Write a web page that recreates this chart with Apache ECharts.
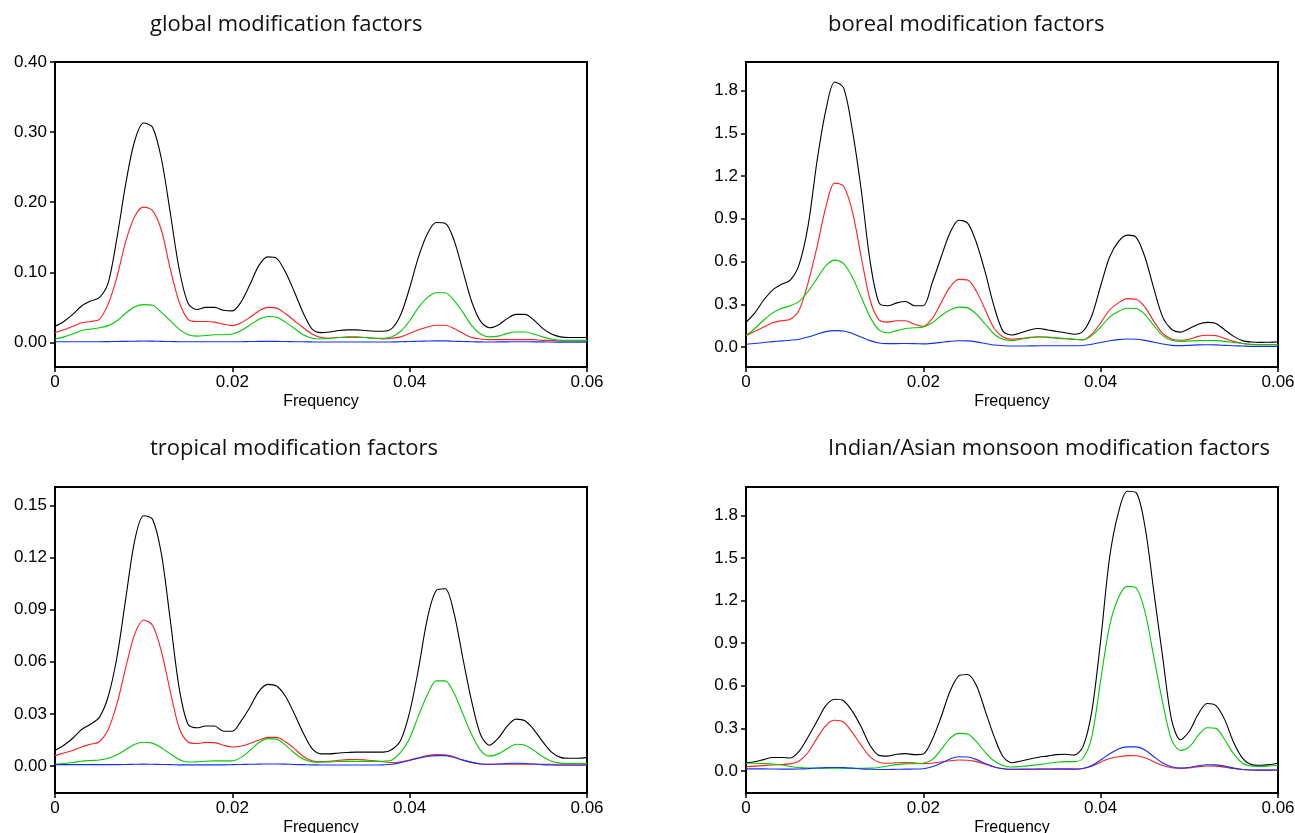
<!DOCTYPE html>
<html><head><meta charset="utf-8">
<script src="https://cdn.jsdelivr.net/npm/echarts@6/dist/echarts.min.js"></script>
<style>html,body{margin:0;padding:0;background:#fff}#c{width:1295px;height:833px}</style>
</head><body><div id="c"></div>
<script>
// Frequency grid (x values)
const freq = [0,0.001,0.002,0.003,0.004,0.005,0.006,0.007,0.008,0.009,
0.010,0.011,0.012,0.013,0.014,0.015,0.016,0.017,0.018,0.019,
0.020,0.021,0.022,0.023,0.024,0.025,0.026,0.027,0.028,0.029,
0.030,0.031,0.032,0.033,0.034,0.035,0.036,0.037,0.038,0.039,
0.040,0.041,0.042,0.043,0.044,0.045,0.046,0.047,0.048,0.049,
0.050,0.051,0.052,0.053,0.054,0.055,0.056,0.057,0.058,0.059,0.060];

// global
const gBlack = [.023,.030,.040,.052,.059,.064,.085,.150,.228,.288,
.313,.307,.262,.185,.105,.056,.047,.050,.050,.046,
.045,.058,.083,.110,.122,.120,.100,.072,.042,.019,
.014,.015,.017,.018,.018,.017,.016,.016,.020,.040,
.078,.122,.155,.171,.170,.146,.102,.058,.030,.021,
.025,.034,.040,.040,.032,.020,.012,.008,.007,.007,.007];
const gRed = [.014,.018,.023,.028,.030,.033,.055,.094,.145,.180,
.193,.188,.160,.105,.058,.033,.030,.030,.029,.026,
.024,.028,.036,.045,.050,.049,.041,.031,.021,.012,
.007,.006,.007,.008,.008,.007,.006,.005,.006,.008,
.013,.018,.022,.0245,.0245,.020,.013,.007,.005,.004,
.004,.004,.004,.004,.004,.003,.003,.002,.002,.002,.002];
const gGreen = [.005,.008,.012,.017,.019,.021,.024,.031,.042,.051,
.054,.053,.043,.031,.019,.011,.009,.010,.011,.011,
.012,.017,.025,.033,.037,.036,.029,.020,.011,.006,
.005,.006,.007,.007,.007,.007,.006,.006,.008,.016,
.031,.050,.064,.071,.071,.060,.043,.024,.012,.008,
.009,.013,.015,.015,.012,.008,.005,.003,.003,.003,.003];
const gBlue = [.001,.001,.001,.001,.001,.001,.0012,.0014,.0016,.0018,
.002,.0019,.0016,.0013,.0011,.001,.001,.001,.001,.001,
.001,.0011,.0013,.0015,.0016,.0015,.0013,.0011,.001,.0008,
.0007,.0007,.0007,.0007,.0007,.0007,.0007,.0007,.0008,.001,
.0013,.0017,.002,.0022,.0022,.0018,.0014,.001,.0008,.0007,
.0008,.0009,.001,.001,.0009,.0008,.0006,.0005,.0005,.0005,.0005];

// boreal
const bBlack = [.173,.24,.33,.40,.44,.47,.58,.85,1.30,1.66,
1.86,1.82,1.52,1.10,.60,.31,.29,.31,.32,.29,
.29,.45,.63,.80,.89,.87,.73,.52,.28,.11,
.085,.10,.12,.13,.12,.11,.10,.09,.11,.22,
.43,.63,.74,.785,.77,.63,.41,.21,.125,.105,
.13,.16,.173,.165,.12,.075,.045,.035,.033,.034,.035];
const bRed = [.08,.11,.14,.17,.185,.195,.26,.45,.70,.98,
1.15,1.13,.95,.63,.33,.19,.175,.185,.185,.16,
.145,.20,.31,.42,.475,.47,.39,.26,.13,.07,
.055,.06,.068,.072,.068,.062,.058,.054,.05,.09,
.17,.26,.31,.34,.335,.28,.18,.095,.057,.048,
.055,.075,.083,.08,.06,.04,.025,.018,.016,.016,.016];
const bGreen = [.08,.13,.19,.24,.27,.29,.32,.39,.48,.57,
.61,.585,.49,.35,.21,.12,.10,.115,.13,.135,
.14,.17,.22,.26,.28,.275,.23,.16,.09,.055,
.045,.055,.065,.07,.07,.065,.06,.055,.05,.08,
.14,.21,.25,.272,.27,.228,.15,.08,.047,.04,
.042,.045,.046,.045,.04,.032,.025,.02,.018,.018,.018];
const bBlue = [.02,.025,.032,.038,.043,.048,.055,.07,.09,.108,
.115,.113,.095,.07,.045,.028,.024,.024,.025,.024,
.022,.026,.033,.04,.044,.043,.036,.025,.014,.009,
.007,.007,.008,.009,.009,.009,.009,.009,.011,.02,
.032,.044,.052,.056,.055,.047,.034,.021,.012,.01,
.012,.015,.016,.015,.012,.009,.007,.005,.005,.005,.005];

// tropical
const tBlack = [.009,.012,.016,.021,.024,.028,.040,.063,.097,.130,
.144,.142,.122,.084,.045,.024,.022,.023,.023,.020,
.020,.026,.034,.043,.047,.046,.040,.030,.019,.010,
.007,.007,.0075,.0078,.008,.008,.008,.008,.0095,.015,
.031,.056,.085,.101,.102,.088,.062,.037,.018,.012,
.016,.023,.027,.026,.021,.014,.008,.005,.0045,.0045,.005];
const tRed = [.006,.0075,.009,.011,.0125,.014,.021,.036,.057,.076,
.084,.081,.066,.043,.022,.0138,.013,.0136,.0135,.012,
.011,.0115,.013,.015,.0165,.0165,.014,.010,.0055,.003,
.0025,.0028,.0033,.0037,.0038,.0035,.003,.0025,.002,.0025,
.0035,.0048,.006,.0066,.0065,.0053,.0035,.0021,.0012,.001,
.001,.001,.001,.001,.001,.001,.001,.001,.001,.001,.001];
const tGreen = [.001,.0015,.002,.0028,.0032,.0035,.0045,.0065,.0095,.0125,
.0137,.0132,.0105,.007,.0038,.0023,.0024,.0028,.003,.003,
.003,.005,.009,.0135,.0158,.0155,.012,.0075,.004,.0024,
.0022,.0024,.0026,.0027,.0027,.0027,.0027,.0028,.0035,.008,
.016,.029,.041,.049,.049,.042,.030,.018,.009,.0057,
.007,.010,.0125,.012,.009,.0055,.0028,.0017,.0015,.0015,.0015];
const tBlue = [.0008,.0008,.0008,.0008,.0008,.0008,.0008,.0008,.0009,.001,
.0011,.001,.0009,.0008,.0007,.0007,.0007,.0007,.0007,.0007,
.0008,.0009,.001,.0011,.0012,.0012,.0011,.0009,.0008,.0007,
.0006,.0006,.0006,.0006,.0006,.0006,.0006,.0007,.001,.002,
.0032,.0045,.0055,.006,.006,.0049,.0034,.0021,.0012,.001,
.0012,.0015,.0016,.0015,.0012,.0008,.0006,.0005,.0005,.0005,.0005];

// Indian/Asian monsoon
const mBlack = [.058,.065,.08,.095,.095,.092,.14,.24,.35,.46,
.505,.495,.42,.31,.18,.11,.105,.118,.122,.115,
.12,.22,.38,.56,.67,.68,.60,.42,.24,.10,
.058,.07,.085,.097,.105,.115,.118,.112,.17,.42,
.92,1.50,1.82,1.97,1.96,1.72,1.26,.80,.36,.22,
.28,.40,.475,.46,.36,.20,.09,.045,.04,.045,.055];
const mRed = [.03,.034,.038,.042,.046,.05,.07,.13,.23,.32,
.357,.345,.27,.18,.10,.062,.055,.058,.06,.057,
.052,.055,.063,.072,.077,.076,.066,.048,.028,.016,
.012,.013,.014,.015,.016,.016,.015,.014,.018,.033,
.062,.088,.10,.108,.107,.093,.065,.038,.023,.019,
.022,.03,.035,.034,.027,.017,.01,.007,.006,.006,.007];
const mGreen = [.055,.054,.052,.049,.042,.032,.024,.02,.019,.019,
.019,.019,.019,.019,.02,.025,.035,.045,.05,.052,
.055,.08,.15,.23,.265,.26,.205,.13,.07,.037,
.028,.032,.038,.045,.053,.062,.066,.066,.09,.24,
.64,1.02,1.22,1.30,1.29,1.12,.80,.48,.22,.145,
.17,.25,.305,.30,.22,.12,.055,.035,.032,.035,.04];
const mBlue = [.015,.015,.015,.014,.013,.013,.014,.017,.021,.024,
.025,.024,.02,.015,.012,.011,.011,.012,.013,.014,
.016,.03,.055,.085,.10,.098,.08,.052,.028,.016,
.012,.012,.012,.012,.012,.013,.013,.013,.017,.038,
.077,.12,.155,.17,.17,.148,.10,.056,.03,.02,
.025,.036,.044,.043,.034,.02,.011,.007,.006,.006,.007];

// tick labels
const xTicks = [0, 0.02, 0.04, 0.06];
const gTicks = [0, 0.1, 0.2, 0.3, 0.4];
const bTicks = [0, 0.3, 0.6, 0.9, 1.2, 1.5, 1.8];
const tTicks = [0, 0.03, 0.06, 0.09, 0.12, 0.15];
const mTicks = [0, 0.3, 0.6, 0.9, 1.2, 1.5, 1.8];
const titles = ['global modification factors','boreal modification factors','tropical modification factors','Indian/Asian monsoon modification factors'];
const xName = 'Frequency';
const colors = ['#000000','#ff2020','#00cc00','#1030ff'];

const panels = [
  {data:[gBlack,gRed,gGreen,gBlue], min:-0.035, max:0.40, ticks:gTicks, dec:2, left:55, top:62, h:305},
  {data:[bBlack,bRed,bGreen,bBlue], min:-0.14, max:2.0, ticks:bTicks, dec:1, left:746, top:62, h:305},
  {data:[tBlack,tRed,tGreen,tBlue], min:-0.0155, max:0.1605, ticks:tTicks, dec:2, left:55, top:487, h:306},
  {data:[mBlack,mRed,mGreen,mBlue], min:-0.155, max:2.0, ticks:mTicks, dec:1, left:746, top:487, h:306}
];
const titlePos = [[145,9],[823,9],[145,433],[823,433]];

const labelFont = {fontFamily:'Liberation Sans', fontSize:17, color:'#000'};
const option = {
  animation:false,
  backgroundColor:'#fff',
  title: titles.map((t,i)=>({text:t, left:titlePos[i][0], top:titlePos[i][1],
    textStyle:{fontFamily:'Open Sans', fontSize:22, fontWeight:'normal', color:'#111'}})),
  grid: panels.map(p=>({left:p.left, top:p.top, width:532, height:p.h, show:true, borderColor:'#000', borderWidth:2,
    containLabel:false, outerBoundsMode:'none'})),
  xAxis: panels.map((p,i)=>({type:'value', gridIndex:i, min:0, max:0.06,
    name:xName, nameLocation:'middle', nameGap:27, nameTextStyle:{fontFamily:'Liberation Sans', fontSize:16, color:'#000'},
    splitLine:{show:false},
    axisLine:{show:true, onZero:false, lineStyle:{color:'#000', width:2}},
    axisTick:{show:true, inside:false, length:5, customValues:xTicks, lineStyle:{color:'#000', width:1.5}},
    axisLabel:Object.assign({margin:7, customValues:xTicks, formatter:v=> v===0?'0':v.toFixed(2)}, labelFont)
  })),
  yAxis: panels.map((p,i)=>({type:'value', gridIndex:i, min:p.min, max:p.max,
    splitLine:{show:false},
    axisLine:{show:true, onZero:false, lineStyle:{color:'#000', width:2}},
    axisTick:{show:true, inside:false, length:5, customValues:p.ticks, lineStyle:{color:'#000', width:1.5}},
    axisLabel:Object.assign({margin:8, customValues:p.ticks, formatter:v=>v.toFixed(p.dec)}, labelFont)
  })),
  series: []
};
panels.forEach((p,i)=>{
  p.data.forEach((arr,k)=>{
    option.series.push({type:'line', xAxisIndex:i, yAxisIndex:i, showSymbol:false, smooth:0.3,
      data: freq.map((f,j)=>[f, arr[j]]),
      lineStyle:{color:colors[k], width:1.1}, itemStyle:{color:colors[k]}, z: 2});
  });
});
const chart = echarts.init(document.getElementById('c'));
chart.setOption(option);
</script></body></html>
